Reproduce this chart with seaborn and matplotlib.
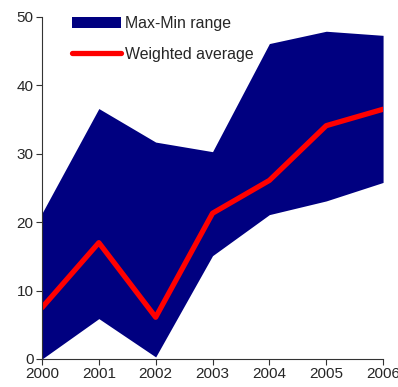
import numpy as np
import pandas as pd
import matplotlib
matplotlib.use("Agg")
import matplotlib.pyplot as plt
import seaborn as sns

# --- data ---
years = [2000, 2001, 2002, 2003, 2004, 2005, 2006]
max_vals = [21.3, 36.6, 31.7, 30.3, 46.1, 47.9, 47.3]
min_vals = [0.0, 5.9, 0.3, 15.1, 21.1, 23.1, 25.8]
avg_vals = [7.5, 17.0, 6.1, 21.3, 26.1, 34.1, 36.5]

df = pd.DataFrame({"year": years, "max": max_vals, "min": min_vals, "avg": avg_vals})

sns.set_theme(style="white")
plt.rcParams['font.family'] = ['Liberation Sans', 'DejaVu Sans']

fig = plt.figure(figsize=(3.98, 3.87), dpi=100)
ax = fig.add_axes([0.1055, 0.0724, 0.857, 0.884])

ax.fill_between(df["year"], df["min"], df["max"], color="#000080", lw=0,
                label="Max-Min range")
sns.lineplot(data=df, x="year", y="avg", ax=ax, color="#ff0000", lw=3.8,
             label="Weighted average")

ax.set_xlim(2000, 2006)
ax.set_ylim(0, 50)
ax.set_xticks(years)
ax.set_yticks([0, 10, 20, 30, 40, 50])
ax.set_xlabel("")
ax.set_ylabel("")
ax.tick_params(axis="both", labelsize=11, length=4, width=0.8, color="#333333",
               direction="out", bottom=True, left=True, pad=2)
for s in ["top", "right"]:
    ax.spines[s].set_visible(False)
for s in ["left", "bottom"]:
    ax.spines[s].set_color("#333333")
    ax.spines[s].set_linewidth(0.8)

ax.legend(loc="upper left", bbox_to_anchor=(0.045, 1.045), frameon=False,
          fontsize=11.4, handlelength=3.1, handletextpad=0.25, labelspacing=1.0)

fig.savefig("out.png", dpi=100)
